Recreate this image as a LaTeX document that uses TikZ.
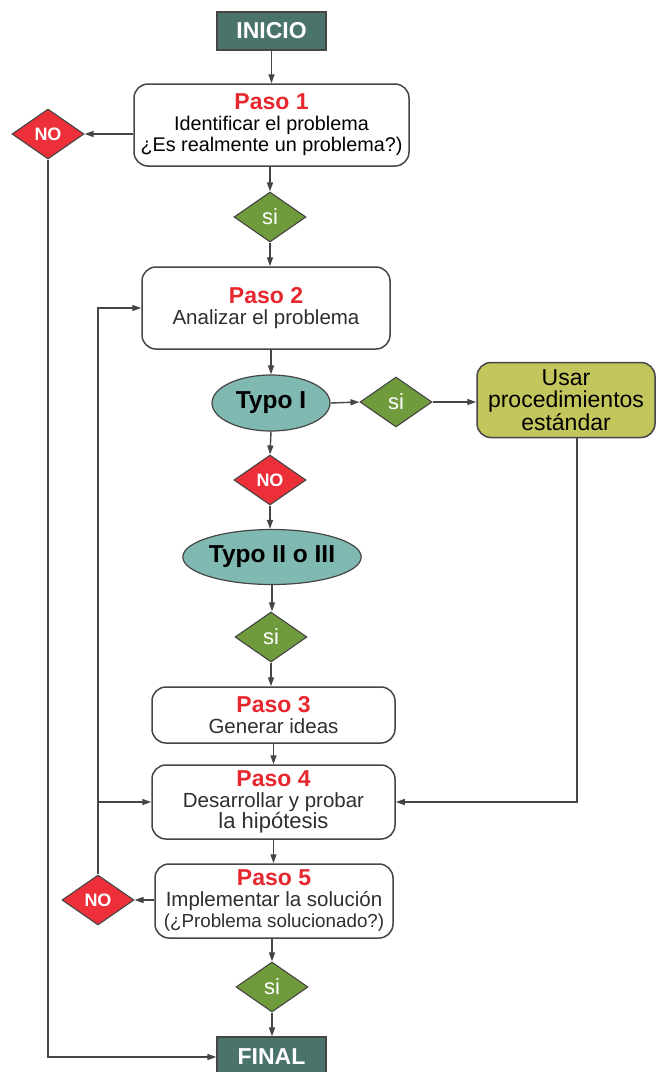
\documentclass[tikz,border=0pt]{standalone}
\usepackage{fontspec}
\setmainfont{Liberation Sans}
\usetikzlibrary{shapes.geometric,arrows.meta}
\definecolor{lineC}{HTML}{454545}
\definecolor{textC}{HTML}{2E2E2E}
\definecolor{redT}{HTML}{E8262D}
\definecolor{termC}{HTML}{4A736C}
\definecolor{noC}{HTML}{EC2F39}
\definecolor{siC}{HTML}{6F9B3D}
\definecolor{typC}{HTML}{80B8B2}
\definecolor{usarC}{HTML}{C3C65C}
\newcommand\pasohd[1]{{\fontsize{23}{21}\selectfont\bfseries\color{redT}#1}}
\begin{document}
\begin{tikzpicture}[x=1pt,y=-1pt,
  arr/.style={draw=lineC, line width=1.4pt, -{Triangle[length=9pt,width=6pt]}},
  pasobox/.style={draw=lineC, line width=1.5pt, rounded corners=14pt, fill=white,
     align=center, inner sep=0pt, text=textC, font=\fontsize{20.5}{21}\selectfont},
  term/.style={draw=lineC, line width=1.2pt, fill=termC, text=white, inner sep=0pt,
     minimum width=109pt, minimum height=38pt, font=\fontsize{23}{23}\selectfont\bfseries},
  nod/.style={diamond, draw=lineC, line width=1.1pt, fill=noC, text=white, inner sep=0pt,
     minimum width=72pt, minimum height=50pt, font=\fontsize{18}{18}\selectfont\bfseries},
  sid/.style={diamond, draw=lineC, line width=1.1pt, fill=siC, text=white, inner sep=0pt,
     minimum width=72pt, minimum height=50pt, font=\fontsize{22}{22}\selectfont},
  typ/.style={ellipse, draw=lineC, line width=1.2pt, fill=typC, text=black, inner sep=0pt,
     font=\fontsize{24.5}{24}\selectfont\bfseries},
]
\useasboundingbox (0,0) rectangle (656,1072);
% terminals
\node[term] (inicio) at (271.5,31) {INICIO};
\node[term, minimum height=40pt] (final) at (271.5,1057) {FINAL};
% steps
\node[pasobox, minimum width=275pt, minimum height=82pt, text=black, font=\fontsize{19.8}{21}\selectfont] (p1) at (271.5,125)
  {\pasohd{Paso 1}\\Identificar el problema\\¿Es realmente un problema?)};
\node[pasobox, minimum width=248pt, minimum height=82pt] (p2) at (266,308)
  {\pasohd{Paso 2}\\Analizar el problema};
\node[pasobox, minimum width=243pt, minimum height=56pt] (p3) at (273.5,715)
  {\pasohd{Paso 3}\\Generar ideas};
\node[pasobox, minimum width=243pt, minimum height=74pt] (p4) at (273.5,802)
  {\pasohd{Paso 4}\\Desarrollar y probar\\{\fontsize{22}{21}\selectfont la hipótesis}};
\node[pasobox, minimum width=238pt, minimum height=74pt] (p5) at (274,901)
  {\pasohd{Paso 5}\\Implementar la solución\\{\fontsize{18.8}{21}\selectfont(¿Problema solucionado?)}};
\node[pasobox, fill=usarC, text=black, minimum width=178pt, minimum height=75pt, font=\fontsize{23}{22.5}\selectfont] (usar) at (566,400)
  {Usar\\procedimientos\\estándar};
% types
\node[typ, minimum width=118pt, minimum height=56pt] (t1) at (271,403) {Typo I};
\node[typ, minimum width=168pt, minimum height=55pt] (t2) at (272,557) {Typo II o III};
% decisions
\node[nod] (no1) at (48,134) {NO};
\node[sid] (si1) at (270,217) {si};
\node[sid] (si2) at (396,402) {si};
\node[nod] (no3) at (270,480) {NO};
\node[sid] (si3) at (271,637) {si};
\node[nod] (no2) at (98,900) {NO};
\node[sid] (si4) at (272,987) {si};
% connectors
\draw[arr] (inicio) -- (p1);
\draw[arr] (p1.west |- no1.east) -- (no1.east);
\draw[arr] (si1.north |- p1.south) -- (si1.north);
\draw[arr] (si1.south) -- (si1.south |- p2.north);
\draw[arr] (t1.north |- p2.south) -- (t1.north);
\draw[arr] (t1.east) -- (si2.west);
\draw[arr] (si2.east) -- (usar.west |- si2.east);
\draw[arr] (t1.south) -- (no3.north);
\draw[arr] (no3.south) -- (no3.south |- t2.north);
\draw[arr] (t2.south) -- (t2.south |- si3.north);
\draw[arr] (si3.south) -- (si3.south |- p3.north);
\draw[arr] (p3.south) -- (p4.north);
\draw[arr] (p4.south) -- (p4.south |- p5.north);
\draw[arr] (p5.south -| si4.north) -- (si4.north);
\draw[arr] (si4.south) -- (si4.south |- final.north);
\draw[arr] ([xshift=11pt]usar.south) |- (p4.east);
\draw[arr] (p5.west |- no2.east) -- (no2.east);
\draw[arr] (no2.north) |- (p2.west);
\draw[arr] (no2.north |- p4.west) -- (p4.west);
\draw[arr] (no1.south) |- (final.west);
\end{tikzpicture}
\end{document}
